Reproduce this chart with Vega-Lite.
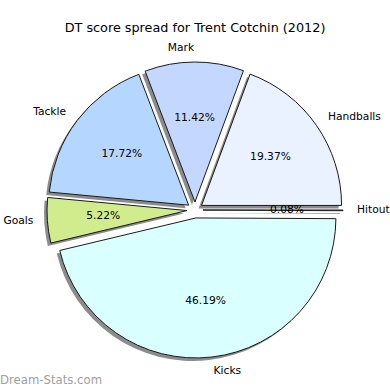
{
  "$schema": "https://vega.github.io/schema/vega-lite/v6.json",
  "width": 390,
  "height": 350,
  "autosize": {"type": "none"},
  "padding": {"top": 35, "left": 0, "right": 0, "bottom": 5},
  "background": "white",
  "view": {"stroke": null},
  "title": {
    "text": "DT score spread for Trent Cotchin (2012)",
    "font": "DejaVu Sans",
    "fontSize": 12.8,
    "fontWeight": "normal",
    "color": "black",
    "anchor": "middle",
    "frame": "group",
    "baseline": "alphabetic",
    "offset": 5,
    "dy": 15
  },
  "datasets": {
    "parts": [
      {"part": "Hitout", "share": 0.0008, "ord": 1, "colour": "#f4f4f4"},
      {"part": "Kicks", "share": 0.4619, "ord": 2, "colour": "#daffff"},
      {"part": "Goals", "share": 0.0522, "ord": 3, "colour": "#d1ec8c"},
      {"part": "Tackle", "share": 0.1772, "ord": 4, "colour": "#b5d6ff"},
      {"part": "Mark", "share": 0.1142, "ord": 5, "colour": "#c4d8ff"},
      {"part": "Handballs", "share": 0.1937, "ord": 6, "colour": "#eaf2ff"}
    ],
    "mark": [{"t": "Dream-Stats.com"}]
  },
  "layer": [
    {
      "data": {"name": "parts"},
      "mark": {
        "type": "arc",
        "outerRadius": 140,
        "fill": "#8c8c8c",
        "x": {"expr": "width/2 - 3 + 8*sin((scale('theta', datum.share_start) + scale('theta', datum.share_end))/2)"},
        "y": {"expr": "height/2 + 3 - 8*cos((scale('theta', datum.share_start) + scale('theta', datum.share_end))/2)"}
      },
      "encoding": {
        "theta": {"field": "share", "type": "quantitative", "stack": true, "scale": {"range": [1.5708, 7.854]}},
        "order": {"field": "ord", "type": "quantitative"}
      }
    },
    {
      "data": {"name": "parts"},
      "mark": {
        "type": "arc",
        "outerRadius": 140,
        "stroke": "#1a1a1a",
        "strokeWidth": 1,
        "x": {"expr": "width/2 + 8*sin((scale('theta', datum.share_start) + scale('theta', datum.share_end))/2)"},
        "y": {"expr": "height/2 - 8*cos((scale('theta', datum.share_start) + scale('theta', datum.share_end))/2)"}
      },
      "encoding": {
        "theta": {"field": "share", "type": "quantitative", "stack": true, "scale": {"range": [1.5708, 7.854]}},
        "order": {"field": "ord", "type": "quantitative"},
        "fill": {"field": "colour", "type": "nominal", "scale": null}
      }
    },
    {
      "data": {"name": "parts"},
      "mark": {
        "type": "text",
        "radius": 84,
        "font": "DejaVu Sans",
        "fontSize": 10.7,
        "color": "black",
        "align": "center",
        "baseline": "middle",
        "x": {"expr": "width/2 + 8*sin((scale('theta', datum.share_start) + scale('theta', datum.share_end))/2)"},
        "y": {"expr": "height/2 - 8*cos((scale('theta', datum.share_start) + scale('theta', datum.share_end))/2)"}
      },
      "encoding": {
        "theta": {"field": "share", "type": "quantitative", "stack": true, "scale": {"range": [1.5708, 7.854]}},
        "order": {"field": "ord", "type": "quantitative"},
        "text": {"field": "share", "type": "quantitative", "format": ".2%"}
      }
    },
    {
      "data": {"name": "parts"},
      "mark": {
        "type": "text",
        "radius": 154,
        "font": "DejaVu Sans",
        "fontSize": 10.7,
        "color": "black",
        "baseline": "middle",
        "align": {"expr": "sin((scale('theta', datum.share_start) + scale('theta', datum.share_end))/2) > 0 ? 'left' : 'right'"},
        "x": {"expr": "width/2 + 8*sin((scale('theta', datum.share_start) + scale('theta', datum.share_end))/2)"},
        "y": {"expr": "height/2 - 8*cos((scale('theta', datum.share_start) + scale('theta', datum.share_end))/2)"}
      },
      "encoding": {
        "theta": {"field": "share", "type": "quantitative", "stack": true, "scale": {"range": [1.5708, 7.854]}},
        "order": {"field": "ord", "type": "quantitative"},
        "text": {"field": "part", "type": "nominal"}
      }
    },
    {
      "data": {"name": "mark"},
      "mark": {
        "type": "text",
        "x": 0,
        "y": {"expr": "height - 1"},
        "align": "left",
        "baseline": "alphabetic",
        "font": "DejaVu Sans",
        "fontSize": 11.7,
        "color": "#a0a0a0"
      },
      "encoding": {
        "text": {"field": "t", "type": "nominal"}
      }
    }
  ]
}
